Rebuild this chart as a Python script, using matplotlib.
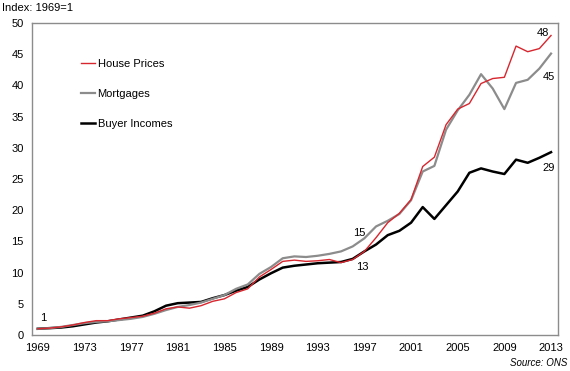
import numpy as np
import matplotlib
matplotlib.use("Agg")
import matplotlib.pyplot as plt

plt.rcParams['font.family'] = ['Liberation Sans', 'DejaVu Sans']

years = list(range(1969, 2014))

## index values, 1969 = 1
house_prices = [1.0, 1.1, 1.3, 1.6, 2.0, 2.3, 2.3, 2.6, 2.8, 3.0,
                3.5, 4.2, 4.5, 4.3, 4.7, 5.4, 5.8, 6.8, 7.4, 9.3,
                10.5, 11.8, 12.0, 11.8, 11.9, 12.1, 11.6, 12.1, 13.4, 15.6,
                18.0, 19.5, 21.7, 27.0, 28.5, 33.7, 36.2, 37.1, 40.3, 41.1,
                41.3, 46.3, 45.4, 45.9, 48.0]
mortgages = [1.0, 1.1, 1.3, 1.6, 1.9, 2.1, 2.2, 2.4, 2.6, 2.9,
             3.4, 4.0, 4.5, 4.8, 5.2, 5.8, 6.4, 7.4, 8.1, 9.8,
             10.9, 12.3, 12.6, 12.5, 12.7, 13.0, 13.4, 14.2, 15.5, 17.4,
             18.3, 19.4, 21.6, 26.2, 27.1, 32.9, 36.0, 38.5, 41.8, 39.5,
             36.2, 40.4, 40.9, 42.7, 45.1]
buyer_incomes = [1.0, 1.1, 1.2, 1.4, 1.7, 2.0, 2.2, 2.5, 2.8, 3.1,
                 3.8, 4.7, 5.1, 5.2, 5.3, 5.9, 6.4, 7.1, 7.7, 8.9,
                 9.9, 10.8, 11.1, 11.3, 11.5, 11.6, 11.7, 12.2, 13.4, 14.5,
                 16.0, 16.7, 18.0, 20.5, 18.6, 20.8, 23.0, 26.0, 26.7, 26.2,
                 25.8, 28.1, 27.6, 28.4, 29.3]

xticks = list(range(1969, 2014, 4))
yticks = list(range(0, 51, 5))

fig = plt.figure(figsize=(5.7, 3.71), dpi=100)
ax = fig.add_axes([0.056, 0.097, 0.923, 0.841])

ax.plot(years, house_prices, color='#d7262e', lw=1.0, label='House Prices', zorder=4)
ax.plot(years, mortgages, color='#8c8c8c', lw=1.6, label='Mortgages', zorder=3)
ax.plot(years, buyer_incomes, color='black', lw=1.8, label='Buyer Incomes', zorder=2)

ax.set_xlim(1968.5, 2013.6)
ax.set_ylim(0, 50)
ax.set_xticks(xticks)
ax.set_yticks(yticks)
ax.tick_params(length=0, labelsize=8, pad=6)
for s in ax.spines.values():
    s.set_color('#8c8c8c')
    s.set_linewidth(1.0)

##end-point labels
ax.text(1969.5, 2.7, '1', fontsize=8, ha='center', va='center')
ax.text(2012.3, 48.4, '48', fontsize=8, ha='center', va='center')
ax.text(2012.8, 41.3, '45', fontsize=8, ha='center', va='center')
ax.text(2012.8, 26.8, '29', fontsize=8, ha='center', va='center')
ax.text(1996.6, 16.3, '15', fontsize=8, ha='center', va='center')
ax.text(1996.8, 10.9, '13', fontsize=8, ha='center', va='center')

ax.legend(loc='upper left', bbox_to_anchor=(0.074, 0.918), frameon=False,
          fontsize=8, labelspacing=1.8, handlelength=1.3, handletextpad=0.2)

fig.text(0.004, 0.978, 'Index: 1969=1', fontsize=8, ha='left', va='center')
fig.text(0.995, 0.022, 'Source: ONS', fontsize=7, style='italic', ha='right', va='center')

fig.savefig('out.png', dpi=100)
